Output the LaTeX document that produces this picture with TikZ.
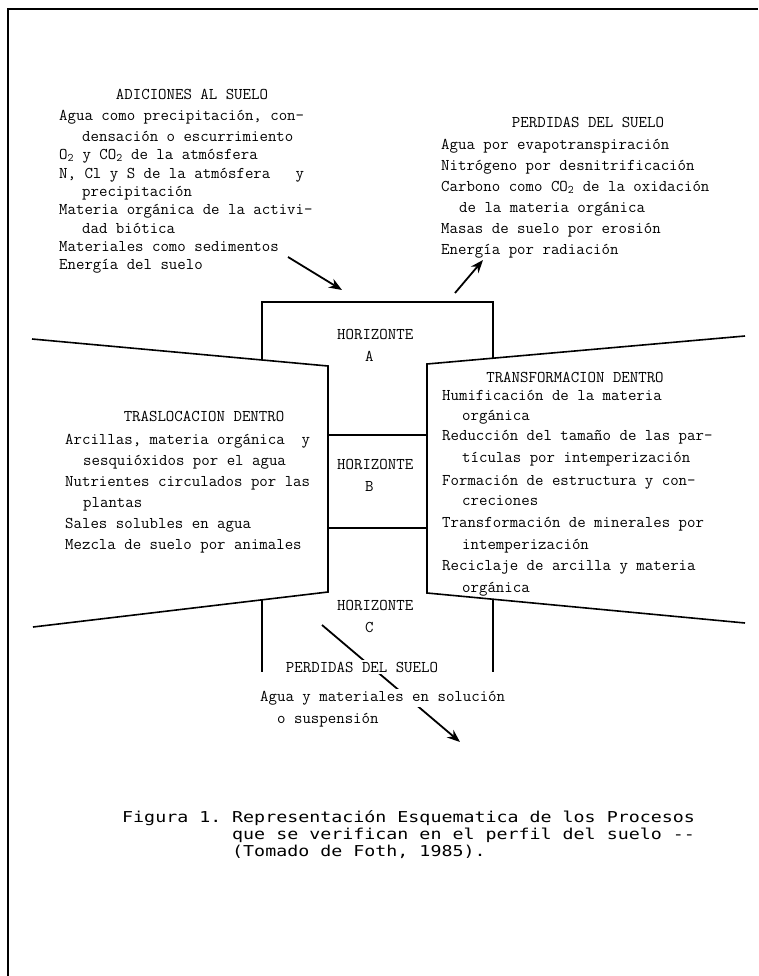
\documentclass[tikz,border=0pt]{standalone}
\usepackage{fontspec}
\usetikzlibrary{arrows.meta}
\newfontfamily\maquina{Latin Modern Mono}
\newfontfamily\leyenda[FakeStretch=1.22]{DejaVu Sans Mono}
\tikzset{
  linea/.style={draw=black, line width=1.6pt},
  flecha/.style={line width=1.8pt, -{Stealth[length=13pt,width=10pt]}},
  texto/.style={font=\maquina\fontsize{16.4}{18}\selectfont, anchor=mid west, inner sep=0pt},
  titulo/.style={texto, anchor=mid},
  tapa/.style={texto, fill=white, inner sep=2pt},
  pie/.style={font=\leyenda\fontsize{15}{17}\selectfont, anchor=mid west, inner sep=0pt}
}

\begin{document}
\begin{tikzpicture}[x=1pt, y=-1pt]
\useasboundingbox (0,0) rectangle (758,976);
%% marco
\draw [linea] (758,9) -- (8,9) -- (8,976);
%% perfil
\draw [linea] (262,360) -- (262,302) -- (493,302) -- (493,358);
\draw [linea] (32,339) -- (328,366) -- (328,592) -- (33,627);
\draw [linea] (745,336) -- (427,364) -- (427,593) -- (745,623);
\draw [linea] (328,435) -- (427,435);
\draw [linea] (328,528) -- (427,528);
\draw [linea] (262,600) -- (262,672);
\draw [linea] (493,599) -- (493,672);
\foreach \h/\y in {A/337, B/467, C/608} {
  \node [texto] (hz\h) at (337,\y) {HORIZONTE};
  \node [texto] (let\h) at (365,\y+22) {\h};
}
%% adiciones
\node [titulo] (adicTit) at (192,97) {ADICIONES AL SUELO};
\foreach \x/\y/\t [count=\i] in {59/118/{Agua como precipitación, con-},
    82/139/{densación o escurrimiento},
    59/157/{O\textsubscript{2} y CO\textsubscript{2} de la atmósfera},
    59/176/{N, Cl y S de la atmósfera\ \ \ y},
    82/194/{precipitación},
    59/212/{Materia orgánica de la activi-},
    82/231/{dad biótica},
    59/249/{Materiales como sedimentos},
    59/267/{Energía del suelo}}
  \node [texto] (adic\i) at (\x,\y) {\t};
%% perdidas arriba
\node [titulo] (perdTit) at (588,125) {PERDIDAS DEL SUELO};
\foreach \x/\y/\t [count=\i] in {441/147/{Agua por evapotranspiración},
    441/168/{Nitrógeno por desnitrificación},
    441/189/{Carbono como CO\textsubscript{2} de la oxidación},
    459/210/{de la materia orgánica},
    441/231/{Masas de suelo por erosión},
    441/252/{Energía por radiación}}
  \node [texto] (perd\i) at (\x,\y) {\t};
%% traslocacion
\node [titulo] (trasTit) at (204,419) {TRASLOCACION DENTRO};
\foreach \x/\y/\t [count=\i] in {65/442/{Arcillas, materia orgánica\ \ y},
    83/463/{sesquióxidos por el agua},
    65/484/{Nutrientes circulados por las},
    83/505/{plantas},
    65/526/{Sales solubles en agua},
    65/547/{Mezcla de suelo por animales}}
  \node [texto] (tras\i) at (\x,\y) {\t};
%% transformacion
\node [titulo] (tranTit) at (575,380) {TRANSFORMACION DENTRO};
\foreach \x/\y/\t [count=\i] in {442/398/{Humificación de la materia},
    462/418/{orgánica},
    442/438/{Reducción del tamaño de las par-},
    462/460/{tículas por intemperización},
    442/483/{Formación de estructura y con-},
    462/503/{creciones},
    442/525/{Transformación de minerales por},
    462/547/{intemperización},
    442/568/{Reciclaje de arcilla y materia},
    462/590/{orgánica}}
  \node [texto] (tran\i) at (\x,\y) {\t};
%% flechas
\coordinate (adicIni) at (288,257);
\coordinate (adicFin) at (342,290);
\coordinate (perdIni) at (455,293);
\coordinate (perdFin) at (483,260);
\coordinate (bajaIni) at (322,625);
\coordinate (bajaFin) at (460,742);
\draw [flecha] (adicIni) -- (adicFin);
\draw [flecha] (perdIni) -- (perdFin);
\draw [flecha] (bajaIni) -- (bajaFin);
%% perdidas abajo
\node [tapa, anchor=mid] (bajaTit) at (362,670) {PERDIDAS DEL SUELO};
\node [tapa] (baja1) at (258,699) {Agua y materiales en solución};
\node [tapa] (baja2) at (275,721) {o suspensión};
%% pie de figura
\node [pie] (figNum) at (122,820) {Figura 1.};
\foreach \y/\t [count=\i] in {820/{Representación Esquematica de los Procesos},
    837/{que se verifican en el perfil del suelo -{}-},
    854/{(Tomado de Foth, 1985).}}
  \node [pie] (pie\i) at (232,\y) {\t};
\end{tikzpicture}
\end{document}
